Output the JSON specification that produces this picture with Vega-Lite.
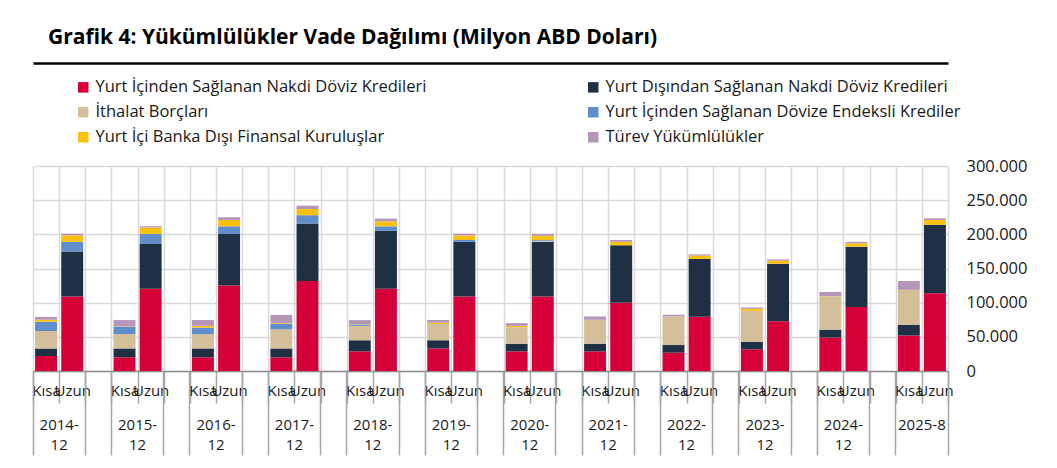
{
  "$schema": "https://vega.github.io/schema/vega-lite/v6.json",
  "width": 915,
  "height": 205,
  "autosize": "none",
  "padding": {"left": 33, "top": 166, "right": 109, "bottom": 97},
  "background": "white",
  "title": {
    "text": "Grafik 4: Yükümlülükler Vade Dağılımı (Milyon ABD Doları)",
    "anchor": "start",
    "frame": "group",
    "dx": 15,
    "offset": 15,
    "font": "Open Sans",
    "fontSize": 21,
    "fontWeight": "bold",
    "color": "#000000"
  },
  "datasets": {
    "bars": [
      {"slot": "2014-12 Kısa", "ic": 22000, "dis": 11000, "ith": 25500, "end": 13500, "bdfk": 3000, "tur": 4000},
      {"slot": "2014-12 Uzun", "ic": 109000, "dis": 66000, "ith": 0, "end": 14000, "bdfk": 9500, "tur": 2500},
      {"slot": "2015-12 Kısa", "ic": 20000, "dis": 13000, "ith": 21000, "end": 11000, "bdfk": 500, "tur": 9000},
      {"slot": "2015-12 Uzun", "ic": 120500, "dis": 65500, "ith": 0, "end": 14500, "bdfk": 9500, "tur": 2000},
      {"slot": "2016-12 Kısa", "ic": 20000, "dis": 13000, "ith": 21000, "end": 9400, "bdfk": 2600, "tur": 8600},
      {"slot": "2016-12 Uzun", "ic": 125000, "dis": 75500, "ith": 0, "end": 11200, "bdfk": 9300, "tur": 4000},
      {"slot": "2017-12 Kısa", "ic": 20000, "dis": 13000, "ith": 28000, "end": 8000, "bdfk": 1000, "tur": 12000},
      {"slot": "2017-12 Uzun", "ic": 131700, "dis": 84300, "ith": 0, "end": 12000, "bdfk": 9000, "tur": 5000},
      {"slot": "2018-12 Kısa", "ic": 28800, "dis": 16200, "ith": 21000, "end": 2000, "bdfk": 500, "tur": 6000},
      {"slot": "2018-12 Uzun", "ic": 120500, "dis": 84500, "ith": 0, "end": 6700, "bdfk": 7300, "tur": 4000},
      {"slot": "2019-12 Kısa", "ic": 33000, "dis": 12000, "ith": 23000, "end": 500, "bdfk": 2200, "tur": 4000},
      {"slot": "2019-12 Uzun", "ic": 109000, "dis": 80000, "ith": 0, "end": 2700, "bdfk": 6800, "tur": 2500},
      {"slot": "2020-12 Kısa", "ic": 28800, "dis": 11200, "ith": 24000, "end": 0, "bdfk": 2000, "tur": 4000},
      {"slot": "2020-12 Uzun", "ic": 109000, "dis": 80000, "ith": 1500, "end": 1200, "bdfk": 6300, "tur": 3000},
      {"slot": "2021-12 Kısa", "ic": 28800, "dis": 11200, "ith": 34600, "end": 0, "bdfk": 300, "tur": 4900},
      {"slot": "2021-12 Uzun", "ic": 100000, "dis": 84000, "ith": 0, "end": 0, "bdfk": 5000, "tur": 2700},
      {"slot": "2022-12 Kısa", "ic": 26800, "dis": 11200, "ith": 41500, "end": 0, "bdfk": 300, "tur": 2500},
      {"slot": "2022-12 Uzun", "ic": 79500, "dis": 84500, "ith": 0, "end": 0, "bdfk": 5000, "tur": 1700},
      {"slot": "2023-12 Kısa", "ic": 31700, "dis": 10700, "ith": 45600, "end": 0, "bdfk": 3000, "tur": 2000},
      {"slot": "2023-12 Uzun", "ic": 72700, "dis": 84300, "ith": 0, "end": 0, "bdfk": 4500, "tur": 1900},
      {"slot": "2024-12 Kısa", "ic": 49000, "dis": 11500, "ith": 48500, "end": 0, "bdfk": 500, "tur": 6100},
      {"slot": "2024-12 Uzun", "ic": 93700, "dis": 88300, "ith": 0, "end": 0, "bdfk": 4800, "tur": 2200},
      {"slot": "2025-8 Kısa", "ic": 52000, "dis": 15800, "ith": 50700, "end": 0, "bdfk": 300, "tur": 12900},
      {"slot": "2025-8 Uzun", "ic": 113700, "dis": 100300, "ith": 0, "end": 0, "bdfk": 7000, "tur": 2400}
    ],
    "seriler": [
      {"k": "ic", "sira": 1, "ad": "Yurt İçinden Sağlanan Nakdi Döviz Kredileri"},
      {"k": "dis", "sira": 2, "ad": "Yurt Dışından Sağlanan Nakdi Döviz Kredileri"},
      {"k": "ith", "sira": 3, "ad": "İthalat Borçları"},
      {"k": "end", "sira": 4, "ad": "Yurt İçinden Sağlanan Dövize Endeksli Krediler"},
      {"k": "bdfk", "sira": 5, "ad": "Yurt İçi Banka Dışı Finansal Kuruluşlar"},
      {"k": "tur", "sira": 6, "ad": "Türev Yükümlülükler"}
    ]
  },
  "data": {"name": "bars"},
  "resolve": {"axis": {"x": "independent"}},
  "layer": [
    {
      "transform": [
        {"fold": ["ic", "dis", "ith", "end", "bdfk", "tur"], "as": ["k", "deger"]},
        {"filter": "datum.deger > 0"},
        {"lookup": "k", "from": {"data": {"name": "seriler"}, "key": "k", "fields": ["ad", "sira"]}}
      ],
      "mark": {"type": "bar", "width": {"band": 0.84}},
      "encoding": {
        "x": {
          "field": "slot",
          "type": "nominal",
          "scale": {
            "paddingInner": 0,
            "paddingOuter": 0,
            "domain": ["2014-12 Kısa", "2014-12 Uzun", "2014-12 -", "2015-12 Kısa", "2015-12 Uzun", "2015-12 -", "2016-12 Kısa", "2016-12 Uzun", "2016-12 -", "2017-12 Kısa", "2017-12 Uzun", "2017-12 -", "2018-12 Kısa", "2018-12 Uzun", "2018-12 -", "2019-12 Kısa", "2019-12 Uzun", "2019-12 -", "2020-12 Kısa", "2020-12 Uzun", "2020-12 -", "2021-12 Kısa", "2021-12 Uzun", "2021-12 -", "2022-12 Kısa", "2022-12 Uzun", "2022-12 -", "2023-12 Kısa", "2023-12 Uzun", "2023-12 -", "2024-12 Kısa", "2024-12 Uzun", "2024-12 -", "2025-8 Kısa", "2025-8 Uzun"]
          },
          "axis": {
            "orient": "bottom",
            "title": null,
            "tickBand": "extent",
            "tickSize": 32,
            "tickColor": "#A6A6A6",
            "tickWidth": 1.5,
            "domainColor": "#8C8C8C",
            "domainWidth": 1.5,
            "grid": true,
            "gridColor": "#D9D9D9",
            "gridWidth": 1.5,
            "labelExpr": "split(datum.label, ' ')[1] == '-' ? '' : split(datum.label, ' ')[1]",
            "labelAngle": 0,
            "labelAlign": "center",
            "labelBaseline": "top",
            "labelOverlap": false,
            "labelFont": "Open Sans",
            "labelFontSize": 15,
            "labelColor": "#1A1A1A",
            "labelPadding": -20
          }
        },
        "y": {
          "field": "deger",
          "type": "quantitative",
          "stack": "zero",
          "scale": {"domain": [0, 300000], "nice": false},
          "axis": {
            "orient": "right",
            "title": null,
            "values": [0, 50000, 100000, 150000, 200000, 250000, 300000],
            "labelExpr": "replace(format(datum.value, ','), ',', '.')",
            "domain": false,
            "ticks": false,
            "grid": true,
            "gridColor": "#D9D9D9",
            "gridWidth": 1.5,
            "labelAlign": "left",
            "labelBaseline": "middle",
            "labelPadding": 18,
            "labelFont": "Open Sans",
            "labelFontSize": 16.5,
            "labelColor": "#1A1A1A"
          }
        },
        "order": {"field": "sira", "type": "quantitative"},
        "color": {
          "field": "ad",
          "type": "nominal",
          "sort": ["Yurt İçinden Sağlanan Nakdi Döviz Kredileri", "İthalat Borçları", "Yurt İçi Banka Dışı Finansal Kuruluşlar", "Yurt Dışından Sağlanan Nakdi Döviz Kredileri", "Yurt İçinden Sağlanan Dövize Endeksli Krediler", "Türev Yükümlülükler"],
          "scale": {
            "domain": ["Yurt İçinden Sağlanan Nakdi Döviz Kredileri", "İthalat Borçları", "Yurt İçi Banka Dışı Finansal Kuruluşlar", "Yurt Dışından Sağlanan Nakdi Döviz Kredileri", "Yurt İçinden Sağlanan Dövize Endeksli Krediler", "Türev Yükümlülükler"],
            "range": ["#D50037", "#D5BF9A", "#F8C10F", "#1F3045", "#5F8ECB", "#B596B8"]
          },
          "legend": {
            "title": null,
            "orient": "none",
            "legendX": 42,
            "legendY": -87,
            "columns": 2,
            "columnPadding": 158,
            "rowPadding": 8,
            "symbolType": "square",
            "symbolSize": 110,
            "symbolStrokeWidth": 0,
            "labelFont": "Open Sans",
            "labelFontSize": 16.5,
            "labelColor": "#1A1A1A",
            "labelLimit": 500
          }
        }
      }
    },
    {
      "mark": {"type": "tick", "opacity": 0},
      "encoding": {
        "x": {
          "field": "slot",
          "type": "nominal",
          "scale": {
            "paddingInner": 0,
            "paddingOuter": 0,
            "domain": ["2014-12 Kısa", "2014-12 Uzun", "2014-12 -", "2015-12 Kısa", "2015-12 Uzun", "2015-12 -", "2016-12 Kısa", "2016-12 Uzun", "2016-12 -", "2017-12 Kısa", "2017-12 Uzun", "2017-12 -", "2018-12 Kısa", "2018-12 Uzun", "2018-12 -", "2019-12 Kısa", "2019-12 Uzun", "2019-12 -", "2020-12 Kısa", "2020-12 Uzun", "2020-12 -", "2021-12 Kısa", "2021-12 Uzun", "2021-12 -", "2022-12 Kısa", "2022-12 Uzun", "2022-12 -", "2023-12 Kısa", "2023-12 Uzun", "2023-12 -", "2024-12 Kısa", "2024-12 Uzun", "2024-12 -", "2025-8 Kısa", "2025-8 Uzun"]
          },
          "axis": {
            "orient": "bottom",
            "title": null,
            "values": ["2014-12 Kısa", "2014-12 -", "2015-12 Kısa", "2015-12 -", "2016-12 Kısa", "2016-12 -", "2017-12 Kısa", "2017-12 -", "2018-12 Kısa", "2018-12 -", "2019-12 Kısa", "2019-12 -", "2020-12 Kısa", "2020-12 -", "2021-12 Kısa", "2021-12 -", "2022-12 Kısa", "2022-12 -", "2023-12 Kısa", "2023-12 -", "2024-12 Kısa", "2024-12 -", "2025-8 Kısa"],
            "bandPosition": 0,
            "domain": false,
            "grid": false,
            "tickSize": 84,
            "tickColor": "#A6A6A6",
            "tickWidth": 1.5,
            "labelExpr": "split(datum.label, ' ')[1] != 'Kısa' ? '' : (split(datum.label, ' ')[0] == '2025-8' ? '2025-8' : [substring(split(datum.label, ' ')[0], 0, 5), substring(split(datum.label, ' ')[0], 5)])",
            "labelAngle": 0,
            "labelAlign": "center",
            "labelBaseline": "top",
            "labelOverlap": false,
            "labelOffset": 13.07,
            "labelPadding": -38,
            "labelLineHeight": 20,
            "labelFont": "Open Sans",
            "labelFontSize": 15,
            "labelColor": "#1A1A1A"
          }
        }
      }
    },
    {
      "mark": {"type": "tick", "opacity": 0},
      "encoding": {
        "x": {
          "field": "slot",
          "type": "nominal",
          "scale": {
            "paddingInner": 0,
            "paddingOuter": 0,
            "domain": ["2014-12 Kısa", "2014-12 Uzun", "2014-12 -", "2015-12 Kısa", "2015-12 Uzun", "2015-12 -", "2016-12 Kısa", "2016-12 Uzun", "2016-12 -", "2017-12 Kısa", "2017-12 Uzun", "2017-12 -", "2018-12 Kısa", "2018-12 Uzun", "2018-12 -", "2019-12 Kısa", "2019-12 Uzun", "2019-12 -", "2020-12 Kısa", "2020-12 Uzun", "2020-12 -", "2021-12 Kısa", "2021-12 Uzun", "2021-12 -", "2022-12 Kısa", "2022-12 Uzun", "2022-12 -", "2023-12 Kısa", "2023-12 Uzun", "2023-12 -", "2024-12 Kısa", "2024-12 Uzun", "2024-12 -", "2025-8 Kısa", "2025-8 Uzun"]
          },
          "axis": {
            "orient": "bottom",
            "title": null,
            "values": ["2025-8 Uzun"],
            "bandPosition": 1,
            "domain": false,
            "grid": false,
            "labels": false,
            "tickSize": 84,
            "tickColor": "#A6A6A6",
            "tickWidth": 1.5
          }
        }
      }
    },
    {
      "mark": {"type": "tick", "opacity": 0},
      "encoding": {
        "x": {
          "field": "slot",
          "type": "nominal",
          "scale": {
            "paddingInner": 0,
            "paddingOuter": 0,
            "domain": ["2014-12 Kısa", "2014-12 Uzun", "2014-12 -", "2015-12 Kısa", "2015-12 Uzun", "2015-12 -", "2016-12 Kısa", "2016-12 Uzun", "2016-12 -", "2017-12 Kısa", "2017-12 Uzun", "2017-12 -", "2018-12 Kısa", "2018-12 Uzun", "2018-12 -", "2019-12 Kısa", "2019-12 Uzun", "2019-12 -", "2020-12 Kısa", "2020-12 Uzun", "2020-12 -", "2021-12 Kısa", "2021-12 Uzun", "2021-12 -", "2022-12 Kısa", "2022-12 Uzun", "2022-12 -", "2023-12 Kısa", "2023-12 Uzun", "2023-12 -", "2024-12 Kısa", "2024-12 Uzun", "2024-12 -", "2025-8 Kısa", "2025-8 Uzun"]
          },
          "axis": {
            "orient": "top",
            "offset": 103,
            "title": null,
            "domain": true,
            "domainColor": "#000000",
            "domainWidth": 2.5,
            "ticks": false,
            "labels": false,
            "grid": false
          }
        }
      }
    }
  ],
  "config": {
    "view": {"stroke": null}
  }
}
